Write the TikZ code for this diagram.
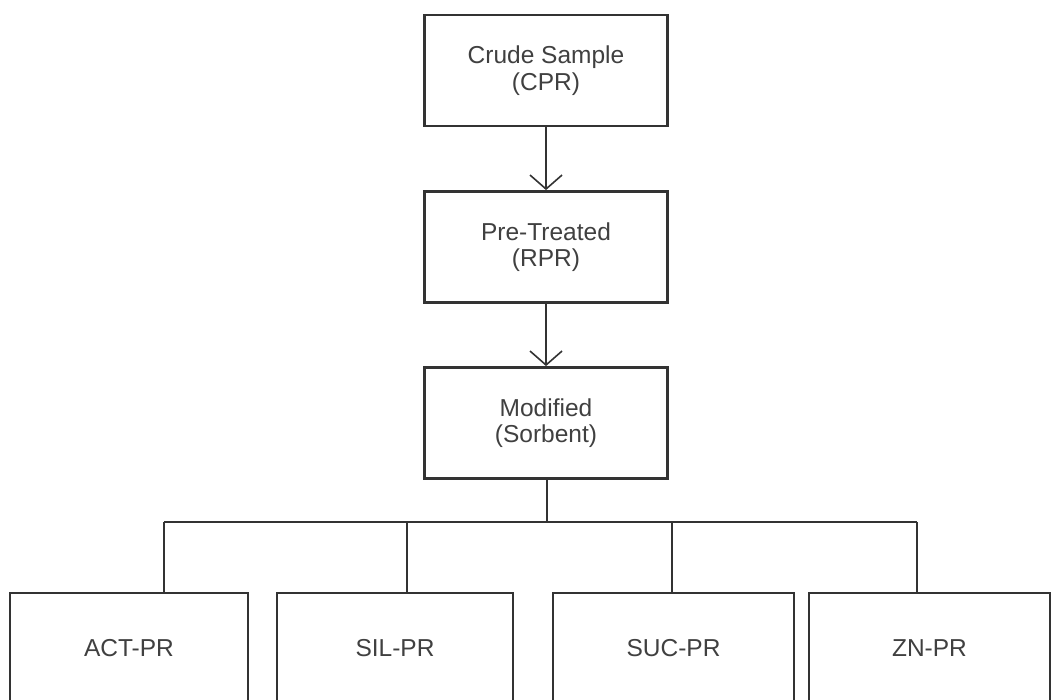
\documentclass[tikz,border=0pt]{standalone}
\usepackage{fontspec}
\setmainfont{Liberation Sans}
\usepackage{tikz}
\usetikzlibrary{arrows.meta,positioning}
\definecolor{edge}{HTML}{333333}
\definecolor{txt}{HTML}{404040}
\tikzset{
  box/.style={draw=edge,line width=2.8pt,align=center,text=txt,font=\fontsize{24.5}{26.5}\selectfont,minimum height=111pt,inner sep=4pt},
  arr/.style={-{Straight Barb[length=14pt,width=32pt,line width=1.6pt]},line width=1.6pt,draw=edge},
  link/.style={line width=1.8pt,draw=edge},
}
\begin{document}
\begin{tikzpicture}[x=1pt,y=-1pt]
\clip (0,0) rectangle (1051,700);
\node[box,minimum width=243pt] (crude) at (546,70.5) {Crude Sample\\(CPR)};
\node[box,minimum width=243pt] (pre) at (546,247) {Pre-Treated\\(RPR)};
\node[box,minimum width=243pt] (mod) at (546,423) {Modified\\(Sorbent)};
\node[box,minimum width=238pt] (act) at (129,648.5) {ACT-PR};
\node[box,minimum width=236pt] (sil) at (395,648.5) {SIL-PR};
\node[box,minimum width=241pt] (suc) at (673.5,648.5) {SUC-PR};
\node[box,minimum width=241pt] (zn) at (929.5,648.5) {ZN-PR};
\draw[arr] (crude)--(pre); \draw[arr] (pre)--(mod);
% branch bus
\coordinate (j0) at (547,522);
\coordinate (j1) at (164,522); \coordinate (j2) at (407,522);
\coordinate (j3) at (672,522); \coordinate (j4) at (917,522);
\draw[link] (mod.south-|j0)--(j0);
\draw[link] (j1)--(j4);
\draw[link] (j1)--(j1|-act.north); \draw[link] (j2)--(j2|-sil.north);
\draw[link] (j3)--(j3|-suc.north); \draw[link] (j4)--(j4|-zn.north);
\end{tikzpicture}
\end{document}
